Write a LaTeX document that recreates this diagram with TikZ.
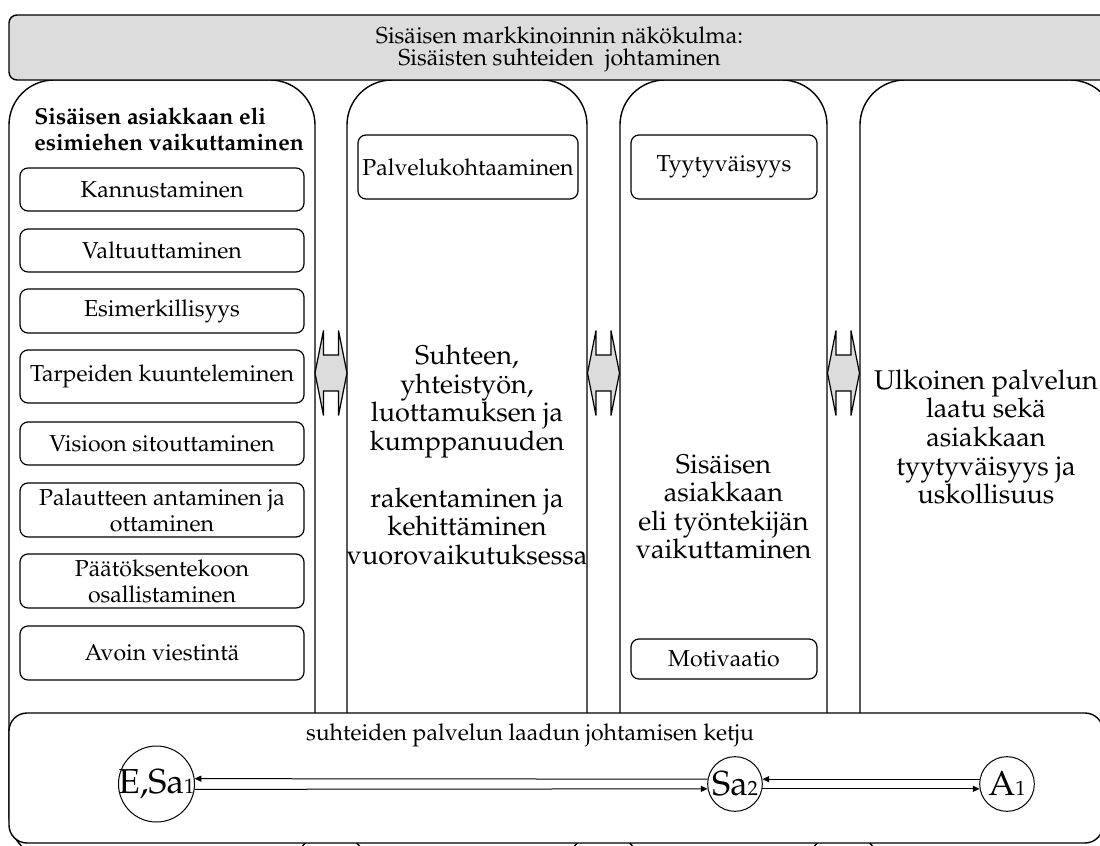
\documentclass[tikz,border=0pt]{standalone}
\usepackage[T1]{fontenc}
\usepackage{mathpazo}
\usetikzlibrary{arrows.meta}
\definecolor{panelgray}{RGB}{220,220,220}
\newcommand\itemfs{\fontsize{17.3}{19.5}\selectfont}
\newcommand\headfs{\fontsize{17.3}{19.5}\selectfont}
\newcommand\bigfs{\fontsize{20.3}{21.4}\selectfont}
\newcommand\bannerfs{\fontsize{17.3}{16.5}\selectfont}
\newcommand\ringfs{\fontsize{26}{26}\selectfont}
\newcommand\ringsub[1]{{\fontsize{15.5}{15.5}\selectfont #1}}

\begin{document}
\begin{tikzpicture}[x=0.75pt,y=-0.75pt,
  column/.style={draw, line width=1.05pt, fill=white, rounded corners=33.75pt, inner sep=0pt},
  itembox/.style={draw, line width=0.9pt, fill=white, rounded corners=6pt, inner sep=0pt,
    align=center, font=\itemfs},
  bigtext/.style={align=center, font=\bigfs, inner sep=0pt},
  ring/.style={circle, draw, line width=0.75pt, fill=white, inner sep=0pt},
  ringlabel/.style={inner sep=0pt, font=\ringfs},
  chain/.style={line width=0.75pt, -{Triangle[length=5pt,width=4.5pt]}},
  pics/dblarrow/.style={code={
    \filldraw[fill=panelgray, line width=0.9pt, line join=miter]
      (-16,0) -- (-7.5,-42.5) -- (-7.5,-18) -- (7.5,-18) -- (7.5,-42.5) -- (16,0)
      -- (7.5,42.5) -- (7.5,18) -- (-7.5,18) -- (-7.5,42.5) -- cycle;
  }}
]
\useasboundingbox (0,0) rectangle (1100,846);
\clip (0,0) rectangle (1100,846);

% four columns
\node[column, minimum width=229.5pt, minimum height=585pt] (c1) at (162,470) {};
\node[column, minimum width=180pt, minimum height=585pt] (c2) at (467,470) {};
\node[column, minimum width=155.25pt, minimum height=585pt] (c3) at (723.5,470) {};
\node[column, minimum width=191.25pt, minimum height=585pt] (c4) at (987.5,470) {};

% title banner
\node[draw, line width=1.05pt, fill=panelgray, rounded corners=6pt, inner sep=0pt,
  minimum width=825.75pt, minimum height=48.75pt] (banner) at (559.5,47.5) {};
\node[align=center, font=\bannerfs, inner sep=0pt] (bannertxt) at (559.5,49.5)
  {Sisäisen markkinoinnin näkökulma:\\Sisäisten suhteiden\ \ johtaminen};

% two-way arrows between the columns
\pic at (331,373) {dblarrow};
\pic at (603.5,373) {dblarrow};
\pic at (843.5,373) {dblarrow};

% first column
\node[anchor=west, align=left, font=\headfs\bfseries, inner sep=0pt] (head1) at (34,129)
  {Sisäisen asiakkaan eli\\esimiehen vaikuttaminen};
\node[itembox, minimum width=213pt, minimum height=32.25pt] (kan) at (162,189.5) {Kannustaminen};
\node[itembox, minimum width=213pt, minimum height=32.25pt] (val) at (162,250.5) {Valtuuttaminen};
\node[itembox, minimum width=213pt, minimum height=33pt] (esi) at (162,311) {Esimerkillisyys};
\node[itembox, minimum width=213pt, minimum height=39.75pt] (tar) at (162,376.5) {Tarpeiden kuunteleminen};
\node[itembox, minimum width=213pt, minimum height=32.25pt] (vis) at (162,443.5) {Visioon sitouttaminen};
\node[itembox, minimum width=213pt, minimum height=40.5pt] (pal) at (162,510) {Palautteen antaminen ja\\ottaminen};
\node[itembox, minimum width=213pt, minimum height=40.5pt] (paa) at (162,581) {Päätöksentekoon\\osallistaminen};
\node[itembox, minimum width=213pt, minimum height=40.5pt] (avo) at (162,653) {Avoin viestintä};

% second column
\node[itembox, minimum width=165pt, minimum height=48pt] (pko) at (468,167) {Palvelukohtaaminen};
\node[bigtext] (rel) at (467,455)
  {Suhteen,\\yhteistyön,\\luottamuksen ja\\kumppanuuden\\[21.4pt]rakentaminen ja\\kehittäminen\\vuorovaikutuksessa};

% third column
\node[itembox, minimum width=139.5pt, minimum height=48pt] (tyy) at (724,167) {Tyytyväisyys};
\node[bigtext] (emp) at (723.5,507) {Sisäisen\\asiakkaan\\eli työntekijän\\vaikuttaminen};
\node[itembox, minimum width=139.5pt, minimum height=30pt] (mot) at (724,659) {Motivaatio};

% fourth column
\node[bigtext] (ext) at (986,437) {Ulkoinen palvelun\\laatu sekä\\asiakkaan\\tyytyväisyys ja\\uskollisuus};

% chain panel at the bottom
\node[draw, line width=1.05pt, fill=white, rounded corners=13.5pt, inner sep=0pt,
  minimum width=820.5pt, minimum height=97.5pt] (panel) at (556,778) {};
\node[font=\itemfs, inner sep=0pt] (chaincap) at (530,735) {suhteiden palvelun laadun johtamisen ketju};

\node[ring, minimum size=57pt] (esa) at (156.5,784) {};
\node[ring, minimum size=41pt] (sa2) at (735,784) {};
\node[ring, minimum size=41pt] (a1) at (1007,784) {};
\node[ringlabel] (esatxt) at (esa) {E,Sa\ringsub{1}};
\node[ringlabel] (sa2txt) at (sa2) {Sa\ringsub{2}};
\node[ringlabel] (a1txt) at (a1) {A\ringsub{1}};

\draw[chain] (sa2.170) -- (esa.8);
\draw[chain] (esa.-8) -- (sa2.190);
\draw[chain] (a1.170) -- (sa2.10);
\draw[chain] (sa2.-10) -- (a1.190);
\end{tikzpicture}
\end{document}
